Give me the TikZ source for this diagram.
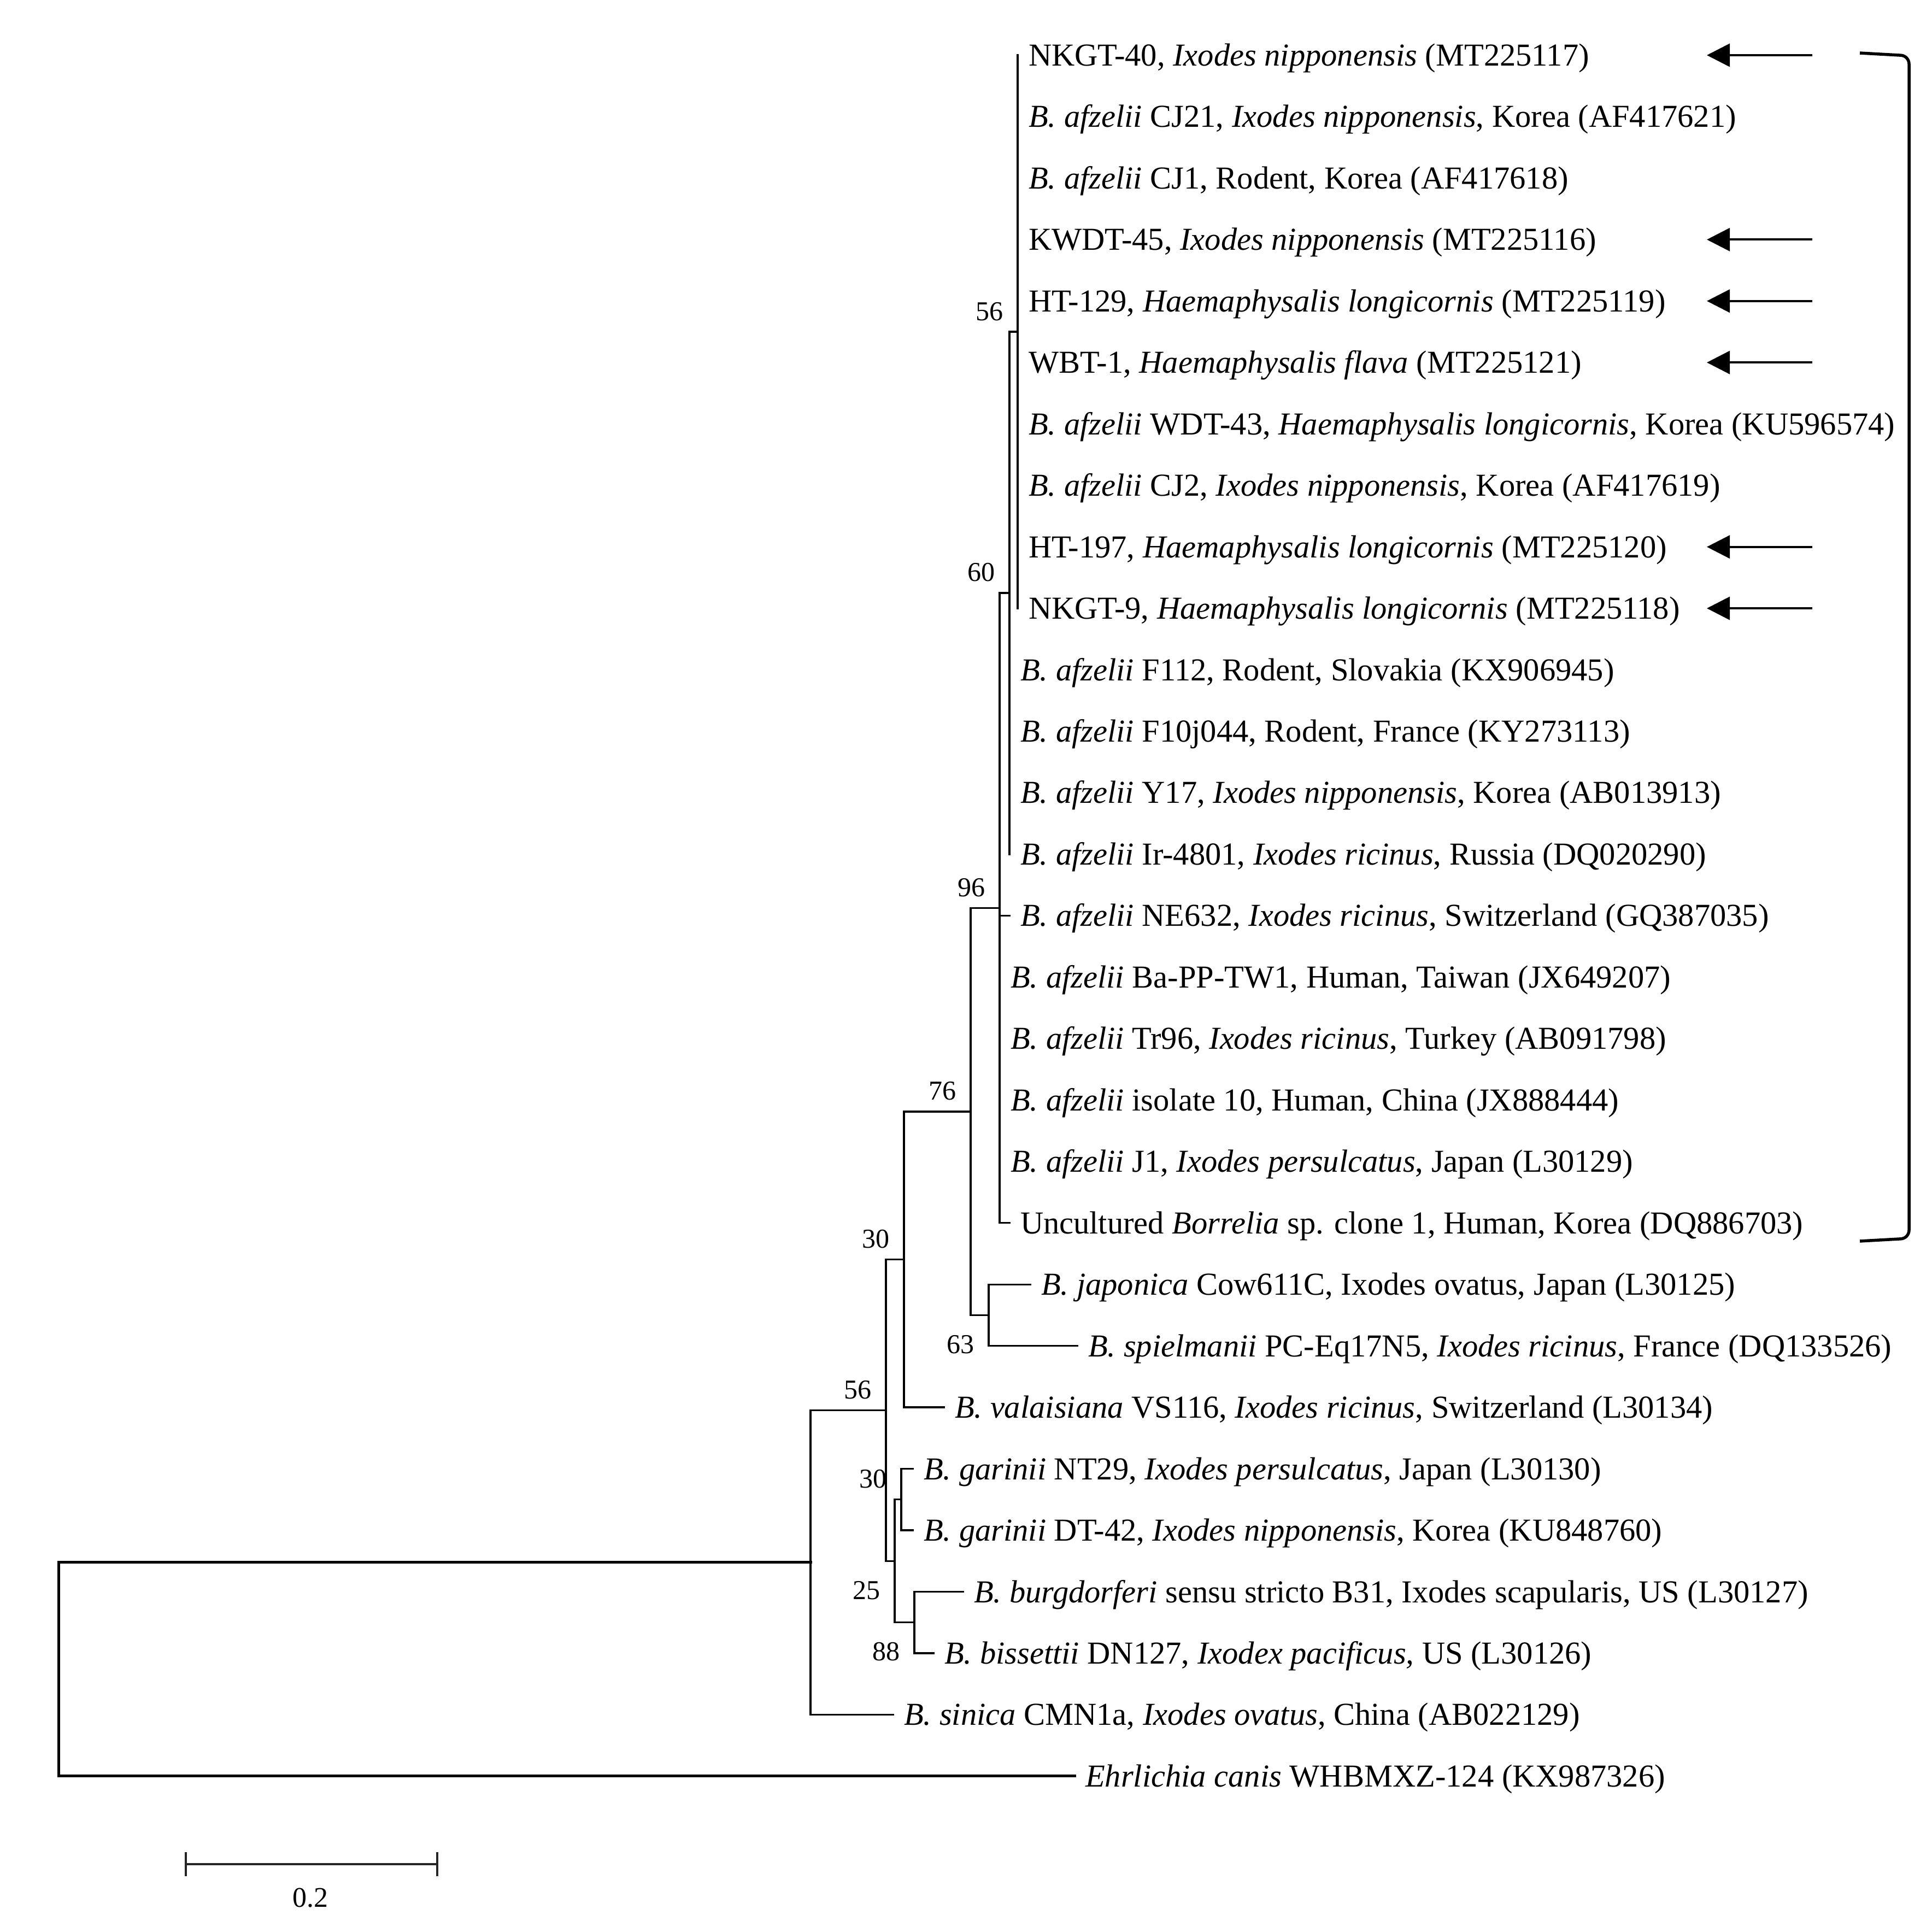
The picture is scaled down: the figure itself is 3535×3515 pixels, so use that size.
\documentclass[tikz,border=0pt]{standalone}
\usepackage{fontspec}
\setmainfont{Liberation Serif}
\usetikzlibrary{arrows.meta}
\begin{document}
\begin{tikzpicture}[x=0.2pt,y=-0.2pt,
  br/.style={line width=0.66pt,line cap=rect},
  rootbr/.style={line width=1pt,line cap=rect},
  leaf/.style={anchor=base west,inner sep=0pt,xshift=3.8pt,yshift=-3.9pt,font=\fontsize{11.7pt}{14pt}\selectfont},
  bsa/.style={anchor=base east,inner sep=0pt,xshift=-5.2pt,yshift=4.2pt,font=\fontsize{10pt}{12pt}\selectfont},
  bsb/.style={anchor=base east,inner sep=0pt,xshift=-5.2pt,yshift=-14pt,font=\fontsize{10pt}{12pt}\selectfont},
  mark arrow/.style={line width=0.8pt,-{Triangle[length=8.4pt,width=8.4pt]}},
]
\useasboundingbox (0,0) rectangle (3535,3515);
% leaf tips
\coordinate (t0) at (1862,101);
\coordinate (t1) at (1862,213.5);
\coordinate (t2) at (1862,325.9);
\coordinate (t3) at (1862,438.4);
\coordinate (t4) at (1862,550.8);
\coordinate (t5) at (1862,663.3);
\coordinate (t6) at (1862,775.8);
\coordinate (t7) at (1862,888.2);
\coordinate (t8) at (1862,1000.7);
\coordinate (t9) at (1862,1113.1);
\coordinate (t10) at (1847,1225.6);
\coordinate (t11) at (1847,1338.1);
\coordinate (t12) at (1847,1450.5);
\coordinate (t13) at (1847,1563.0);
\coordinate (t14) at (1847,1675.4);
\coordinate (t15) at (1829,1787.9);
\coordinate (t16) at (1829,1900.4);
\coordinate (t17) at (1829,2012.8);
\coordinate (t18) at (1829,2125.3);
\coordinate (t19) at (1847,2237.7);
\coordinate (t20) at (1885,2350.2);
\coordinate (t21) at (1971,2462.7);
\coordinate (t22) at (1727,2575.1);
\coordinate (t23) at (1670,2687.6);
\coordinate (t24) at (1670,2800.0);
\coordinate (t25) at (1762,2912.5);
\coordinate (t26) at (1708,3025.0);
\coordinate (t27) at (1634,3137.4);
\coordinate (t28) at (1966,3249.9);
% internal nodes
\coordinate (N56a) at (1862,607.1);
\coordinate (N60) at (1847,1085.0);
\coordinate (N96) at (1829,1661.4);
\coordinate (N63) at (1809,2406.4);
\coordinate (N76) at (1776,2033.9);
\coordinate (N30a) at (1654,2304.5);
\coordinate (Ngar) at (1649,2743.8);
\coordinate (N88) at (1673,2968.7);
\coordinate (N25) at (1637,2856.3);
\coordinate (N56b) at (1621,2580.4);
\coordinate (Nsin) at (1483,2858.9);
\coordinate (Root) at (107,3054.4);
% branches
\foreach \c in {t0,t1,t2,t3,t4,t5,t6,t7,t8,t9} \draw[br] (N56a) |- (\c);
\foreach \c in {N56a,t10,t11,t12,t13} \draw[br] (N60) |- (\c);
\foreach \c in {N60,t14,t15,t16,t17,t18,t19} \draw[br] (N96) |- (\c);
\foreach \c in {t20,t21} \draw[br] (N63) |- (\c);
\foreach \c in {N96,N63} \draw[br] (N76) |- (\c);
\foreach \c in {N76,t22} \draw[br] (N30a) |- (\c);
\foreach \c in {t23,t24} \draw[br] (Ngar) |- (\c);
\foreach \c in {t25,t26} \draw[br] (N88) |- (\c);
\foreach \c in {Ngar,N88} \draw[br] (N25) |- (\c);
\foreach \c in {N30a,N25} \draw[br] (N56b) |- (\c);
\foreach \c in {N56b,t27} \draw[br] (Nsin) |- (\c);
\foreach \c in {Nsin,t28} \draw[rootbr] (Root) |- (\c);
% leaf labels
\node[leaf] (L0) at (t0) {NKGT-40, \textit{Ixodes nipponensis} (MT225117)};
\node[leaf] (L1) at (t1) {\textit{B. afzelii} CJ21, \textit{Ixodes nipponensis}, Korea (AF417621)};
\node[leaf] (L2) at (t2) {\textit{B. afzelii} CJ1, Rodent, Korea (AF417618)};
\node[leaf] (L3) at (t3) {KWDT-45, \textit{Ixodes nipponensis} (MT225116)};
\node[leaf] (L4) at (t4) {HT-129, \textit{Haemaphysalis longicornis} (MT225119)};
\node[leaf] (L5) at (t5) {WBT-1, \textit{Haemaphysalis flava} (MT225121)};
\node[leaf] (L6) at (t6) {\textit{B. afzelii} WDT-43, \textit{Haemaphysalis longicornis}, Korea (KU596574)};
\node[leaf] (L7) at (t7) {\textit{B. afzelii} CJ2, \textit{Ixodes nipponensis}, Korea (AF417619)};
\node[leaf] (L8) at (t8) {HT-197, \textit{Haemaphysalis longicornis} (MT225120)};
\node[leaf] (L9) at (t9) {NKGT-9, \textit{Haemaphysalis longicornis} (MT225118)};
\node[leaf] (L10) at (t10) {\textit{B. afzelii} F112, Rodent, Slovakia (KX906945)};
\node[leaf] (L11) at (t11) {\textit{B. afzelii} F10j044, Rodent, France (KY273113)};
\node[leaf] (L12) at (t12) {\textit{B. afzelii} Y17, \textit{Ixodes nipponensis}, Korea (AB013913)};
\node[leaf] (L13) at (t13) {\textit{B. afzelii} Ir-4801, \textit{Ixodes ricinus}, Russia (DQ020290)};
\node[leaf] (L14) at (t14) {\textit{B. afzelii} NE632, \textit{Ixodes ricinus}, Switzerland (GQ387035)};
\node[leaf] (L15) at (t15) {\textit{B. afzelii} Ba-PP-TW1, Human, Taiwan (JX649207)};
\node[leaf] (L16) at (t16) {\textit{B. afzelii} Tr96, \textit{Ixodes ricinus}, Turkey (AB091798)};
\node[leaf] (L17) at (t17) {\textit{B. afzelii} isolate 10, Human, China (JX888444)};
\node[leaf] (L18) at (t18) {\textit{B. afzelii} J1, \textit{Ixodes persulcatus}, Japan (L30129)};
\node[leaf] (L19) at (t19) {Uncultured \textit{Borrelia} sp. clone 1, Human, Korea (DQ886703)};
\node[leaf] (L20) at (t20) {\textit{B. japonica} Cow611C, Ixodes ovatus, Japan (L30125)};
\node[leaf] (L21) at (t21) {\textit{B. spielmanii} PC-Eq17N5, \textit{Ixodes ricinus}, France (DQ133526)};
\node[leaf] (L22) at (t22) {\textit{B. valaisiana} VS116, \textit{Ixodes ricinus}, Switzerland (L30134)};
\node[leaf] (L23) at (t23) {\textit{B. garinii} NT29, \textit{Ixodes persulcatus}, Japan (L30130)};
\node[leaf] (L24) at (t24) {\textit{B. garinii} DT-42, \textit{Ixodes nipponensis}, Korea (KU848760)};
\node[leaf] (L25) at (t25) {\textit{B. burgdorferi} sensu stricto B31, Ixodes scapularis, US (L30127)};
\node[leaf] (L26) at (t26) {\textit{B. bissettii} DN127, \textit{Ixodex pacificus,} US (L30126)};
\node[leaf] (L27) at (t27) {\textit{B. sinica} CMN1a, \textit{Ixodes ovatus}, China (AB022129)};
\node[leaf] (L28) at (t28) {\textit{Ehrlichia canis} WHBMXZ-124 (KX987326)};
% bootstrap values
\node[bsa] (b1) at (N56a) {56};
\node[bsa] (b2) at (N60) {60};
\node[bsa] (b3) at (N96) {96};
\node[bsa] (b4) at (N76) {76};
\node[bsb] (b5) at (N63) {63};
\node[bsa] (b6) at (N30a) {30};
\node[bsa] (b7) at (N56b) {56};
\node[bsa] (b8) at (Ngar) {30};
\node[bsb] (b9) at (N25) {25};
\node[bsb] (b10) at (N88) {88};
% marker arrows
\foreach \r/\y in {0/101,3/438.4,4/550.8,5/663.3,8/1000.7,9/1113.1}{
  \coordinate (as\r) at (3316,\y);
  \coordinate (ae\r) at (3123,\y);
  \draw[mark arrow] (as\r) -- (ae\r);
}
% bracket
\coordinate (bk1) at (3403,97);
\coordinate (bk2) at (3493,102);
\coordinate (bk3) at (3493,2266);
\coordinate (bk4) at (3403,2271);
\draw[line width=1.1pt,rounded corners=3pt] (bk1) -- (bk2) -- (bk3) -- (bk4);
% scale bar
\coordinate (sb1) at (340,3411);
\coordinate (sb2) at (800,3411);
\draw[line width=0.8pt,draw=black!85] (sb1) -- (sb2);
\draw[line width=0.8pt,draw=black!85] ([yshift=4.4pt]sb1) -- ([yshift=-4.4pt]sb1);
\draw[line width=0.8pt,draw=black!85] ([yshift=4.4pt]sb2) -- ([yshift=-4.4pt]sb2);
\node[anchor=base,inner sep=0pt,font=\fontsize{10.4pt}{12pt}\selectfont] (sbl) at (568,3489) {0.2};
\end{tikzpicture}
\end{document}
